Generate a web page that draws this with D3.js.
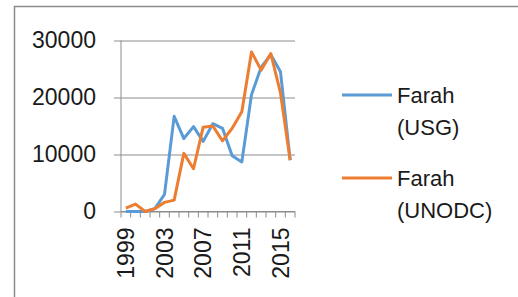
<!DOCTYPE html>
<html>
<head>
  <meta charset="utf-8">
  <title>Farah</title>
  <script src="https://d3js.org/d3.v7.min.js"></script>
  <style>
    body { margin: 0; background: white; }
    svg { font-family: "Liberation Sans", Arial, sans-serif; }
  </style>
</head>
<body>
<script>
  // Data
  var years = ["1999","2000","2001","2002","2003","2004","2005","2006","2007",
               "2008","2009","2010","2011","2012","2013","2014","2015","2016"];
  var usg   = [0, 0, 0, 500, 3000, 16700, 12800, 14900, 12300,
               15400, 14600, 9800, 8700, 20500, 25300, 27500, 24500, 9000];
  var unodc = [600, 1300, 0, 500, 1600, 2000, 10200, 7500, 14800,
               15000, 12400, 14600, 17500, 28000, 24800, 27700, 20800, 9000];
  var yTicks = [0, 10000, 20000, 30000];
  var tickLabels = ["1999", "2003", "2007", "2011", "2015"];
  var seriesNames = [["Farah", "(USG)"], ["Farah", "(UNODC)"]];
  var colors = ["#5b9bd5", "#ed7d31"];

  var W = 518, H = 297;
  var margin = {left: 121, top: 40.5, right: 223, bottom: 85.5};
  var width = W - margin.left - margin.right;
  var height = H - margin.top - margin.bottom;

  var svg = d3.select("body").append("svg")
      .attr("width", W).attr("height", H);

  // frame
  svg.append("path")
      .attr("d", "M14.5,297 V6.5 H518")
      .attr("fill", "none")
      .attr("stroke", "#8c8c8c")
      .attr("stroke-width", 1.5);

  var g = svg.append("g")
      .attr("transform", "translate(" + margin.left + "," + margin.top + ")");

  var x = d3.scaleBand().domain(years).range([0, width]);
  var y = d3.scaleLinear().domain([0, 30000]).range([height, 0]);

  // gridlines + y axis
  g.append("g")
      .call(d3.axisLeft(y).tickValues(yTicks).tickSize(-width).tickPadding(25).tickFormat(d3.format("d")))
      .call(function(s) {
        s.select(".domain").remove();
        s.selectAll(".tick line").attr("stroke", "#8c8c8c").attr("x1", -7);
        s.selectAll(".tick text").attr("font-size", 23).attr("fill", "#1a1a1a")
          .attr("font-family", "Liberation Sans, Arial, sans-serif");
      });

  g.append("line")
      .attr("x1", 0).attr("x2", 0).attr("y1", 0).attr("y2", height)
      .attr("stroke", "#8c8c8c");

  // x axis
  var xa = g.append("g").attr("transform", "translate(0," + height + ")");
  xa.append("line").attr("x1", 0).attr("x2", width).attr("stroke", "#8c8c8c");
  xa.selectAll("line.tk")
      .data(years.concat(["end"]))
      .enter().append("line")
      .attr("class", "tk")
      .attr("x1", function(d, i) { return i * x.bandwidth(); })
      .attr("x2", function(d, i) { return i * x.bandwidth(); })
      .attr("y1", 0).attr("y2", 6)
      .attr("stroke", "#8c8c8c");
  xa.selectAll("text")
      .data(tickLabels)
      .enter().append("text")
      .attr("transform", function(d) {
        return "translate(" + (x(d) + x.bandwidth() / 2 + 8) + ",16) rotate(-90)";
      })
      .attr("text-anchor", "end")
      .attr("font-size", 23)
      .attr("fill", "#1a1a1a")
      .text(function(d) { return d; });

  // lines
  var line = d3.line()
      .x(function(d, i) { return x(years[i]) + x.bandwidth() / 2; })
      .y(function(d) { return y(d); });

  [usg, unodc].forEach(function(s, k) {
    g.append("path")
        .datum(s)
        .attr("d", line)
        .attr("fill", "none")
        .attr("stroke", colors[k])
        .attr("stroke-width", 3)
        .attr("stroke-linejoin", "round");
  });

  // legend
  var leg = svg.append("g");
  [95, 178].forEach(function(ly, k) {
    leg.append("line")
        .attr("x1", 342).attr("x2", 392).attr("y1", ly).attr("y2", ly)
        .attr("stroke", colors[k]).attr("stroke-width", 3);
    leg.append("text")
        .attr("x", 397).attr("y", ly + 8)
        .attr("font-size", 22).attr("fill", "#1a1a1a")
        .text(seriesNames[k][0]);
    leg.append("text")
        .attr("x", 397).attr("y", ly + 40)
        .attr("font-size", 22).attr("fill", "#1a1a1a")
        .text(seriesNames[k][1]);
  });
</script>
</body>
</html>
